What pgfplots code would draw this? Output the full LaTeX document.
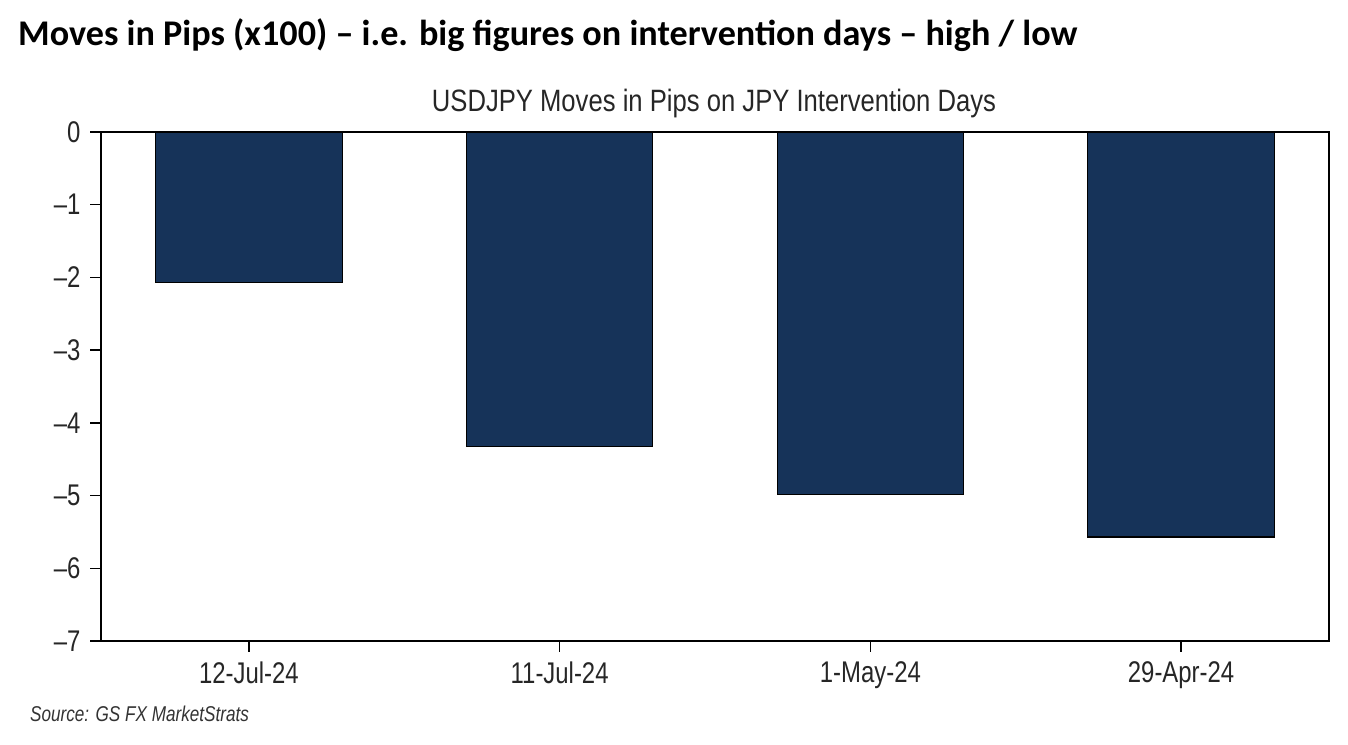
\documentclass[border=0pt]{standalone}
\usepackage{pgfplots}
\pgfplotsset{compat=1.18}
\usepackage{fontspec}
\setmainfont{Liberation Sans}[FakeStretch=0.8]
\newfontfamily\charttitlefont{Liberation Sans}[FakeStretch=0.83]
\newfontfamily\titlefont{Carlito}
\definecolor{navy}{RGB}{22,51,89}
\begin{document}
\begin{tikzpicture}[x=1bp,y=1bp]
  \useasboundingbox (0,0) rectangle (1348,744);
  \begin{axis}[
    at={(101bp,103bp)}, anchor=south west,
    width=1228bp, height=509bp, scale only axis,
    xmin=-0.476, xmax=3.476, ymin=-7, ymax=0,
    ytick={-7,-6,-5,-4,-3,-2,-1,0},
    yticklabels={–7,–6,–5,–4,–3,–2,–1,0},
    xtick={0,1,2,3},
    xticklabels={12-Jul-24,11-Jul-24,1-May-24,29-Apr-24},
    tick align=outside, xtick pos=bottom, ytick pos=left,
    major tick length=11bp,
    axis line style={line width=1.6bp},
    tick style={black, line width=1.4bp},
    ticklabel style={font=\fontsize{30}{30}\selectfont, text=black!85},
    yticklabel style={xshift=-6bp},
    xticklabel style={yshift=-6bp},
    axis on top,
  ]
    \addplot[ybar, bar width=0.6, fill=navy, draw=black, line width=1.2bp]
      coordinates {(0,-2.07) (1,-4.32) (2,-4.98) (3,-5.57)};
  \end{axis}
  \node[anchor=base, inner sep=0, font=\charttitlefont\fontsize{31}{31}\selectfont, text=black!85]
    at (714,632) {USDJPY Moves in Pips on JPY Intervention Days};
  \node[anchor=base west, inner sep=0, font=\titlefont\bfseries\fontsize{36.3}{36.3}\selectfont]
    at (18,698) {Moves in Pips (x100) – i.e. big figures on intervention days – high / low};
  \node[anchor=base west, inner sep=0, font=\itshape\fontsize{21.5}{21.5}\selectfont, text=black!80]
    at (30,23) {Source: GS FX MarketStrats};
\end{tikzpicture}
\end{document}
